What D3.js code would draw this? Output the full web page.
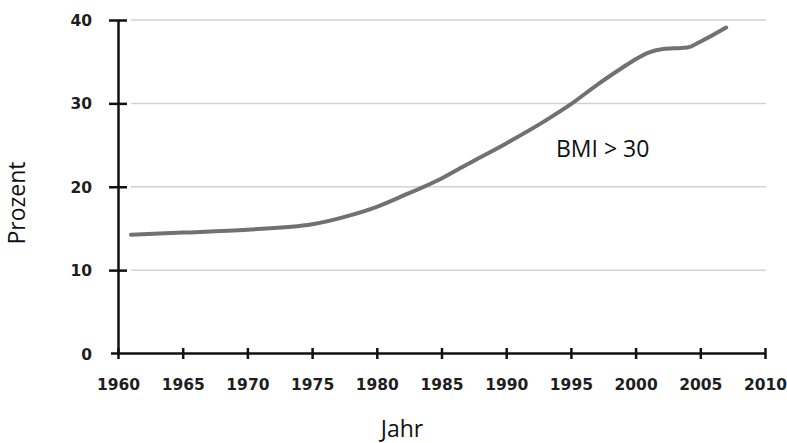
<!DOCTYPE html>
<html>
<head>
<meta charset="utf-8">
<script src="https://cdn.jsdelivr.net/npm/d3@7"></script>
<style>
  body { margin: 0; background: #fff; }
  .title { font-family: "Open Sans", sans-serif; font-size: 23px; fill: #111; }
</style>
</head>
<body>
<svg></svg>
<script>
// Anteil BMI > 30 (Prozent)
const years = [1961, 1965, 1970, 1975, 1978, 1980, 1982, 1985, 1987, 1990, 1993, 1995, 1997, 1999, 2000, 2001, 2002, 2003, 2004, 2005, 2007];
const values = [14.25, 14.5, 14.85, 15.5, 16.6, 17.6, 18.9, 21.0, 22.7, 25.2, 27.9, 29.9, 32.2, 34.3, 35.3, 36.1, 36.5, 36.6, 36.7, 37.4, 39.1];
const xTicks = [1960, 1965, 1970, 1975, 1980, 1985, 1990, 1995, 2000, 2005, 2010];
const yTicks = [0, 10, 20, 30, 40];

const width = 787, height = 443;
const data = years.map((y, i) => ({ year: y, v: values[i] }));

const svg = d3.select("svg")
  .attr("width", width)
  .attr("height", height);

const x = d3.scaleLinear().domain([1960, 2010]).range([118, 765]);
const y = d3.scaleLinear().domain([0, 40]).range([353.5, 20]);

// gridlines
svg.append("g")
  .selectAll("line")
  .data(yTicks.filter(d => d > 0))
  .enter()
  .append("line")
  .attr("x1", 131).attr("x2", 766)
  .attr("y1", d => y(d)).attr("y2", d => y(d))
  .attr("stroke", "#d2d2d2")
  .attr("stroke-width", 1.5);

function styleAxis(g) {
  g.attr("font-family", "DejaVu Sans, sans-serif")
    .attr("font-size", 15.5)
    .attr("font-weight", "bold");
  g.selectAll(".tick text").attr("fill", "#1e1e1e");
}

// Y axis
const gy = svg.append("g")
  .attr("transform", `translate(${x(1960)},0)`)
  .call(d3.axisLeft(y).tickValues(yTicks).tickSize(18).tickSizeOuter(0));
styleAxis(gy);
gy.select(".domain").attr("stroke", "#111").attr("stroke-width", 2.5);
gy.selectAll(".tick line").attr("x1", 9).attr("x2", -9).attr("stroke", "#111").attr("stroke-width", 2.5);
gy.selectAll(".tick text").attr("x", -26).attr("dy", "0.36em");
gy.selectAll(".tick").filter(d => d === 0).select("line").remove();

// X axis
const gx = svg.append("g")
  .attr("transform", `translate(0,${y(0)})`)
  .call(d3.axisBottom(x).tickValues(xTicks).tickFormat(d3.format("d")).tickSize(11).tickSizeOuter(0));
styleAxis(gx);
gx.select(".domain").attr("stroke", "#111").attr("stroke-width", 2.5)
  .attr("d", `M${x(1960) - 7},0H${x(2010)}`);
gx.selectAll(".tick line").attr("y1", -5.5).attr("y2", 5.5).attr("stroke", "#111").attr("stroke-width", 2.5);
gx.selectAll(".tick text").attr("y", 36).attr("dy", 0);

// line
const line = d3.line()
  .x(d => x(d.year))
  .y(d => y(d.v))
  .curve(d3.curveMonotoneX);

svg.append("path")
  .datum(data)
  .attr("fill", "none")
  .attr("stroke", "#717171")
  .attr("stroke-width", 4)
  .attr("stroke-linecap", "round")
  .attr("d", line);

// labels
svg.append("text")
  .attr("class", "title")
  .attr("x", 556).attr("y", 157)
  .text("BMI > 30");

svg.append("text")
  .attr("class", "title")
  .attr("transform", "rotate(-90)")
  .attr("x", -203).attr("y", 25)
  .style("text-anchor", "middle")
  .text("Prozent");

svg.append("text")
  .attr("class", "title")
  .attr("x", 402).attr("y", 437)
  .style("text-anchor", "middle")
  .text("Jahr");
</script>
</body>
</html>
